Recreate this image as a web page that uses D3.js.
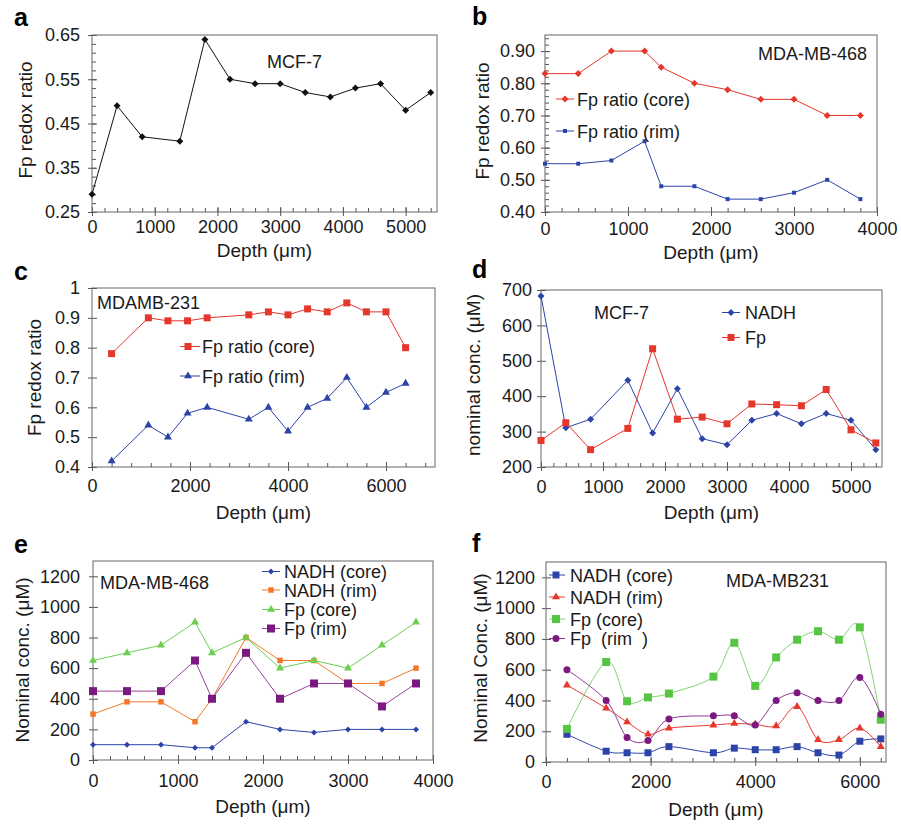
<!DOCTYPE html>
<html><head><meta charset="utf-8">
<script src="https://cdn.jsdelivr.net/npm/d3@7/dist/d3.min.js"></script>
<style>
body{margin:0;background:#fff}
svg text{font-family:"Liberation Sans",Arial,Helvetica,sans-serif;fill:#1a1a1a}
</style>
</head><body>
<svg id="chart" width="901" height="825"></svg>
<script>
// ---------------- DATA ----------------
// a: MCF-7 Fp redox ratio
const depthA = [0,400,800,1400,1800,2200,2600,3000,3400,3800,4200,4600,5000,5400];
const fpRatioA = [0.29,0.49,0.42,0.41,0.64,0.55,0.54,0.54,0.52,0.51,0.53,0.54,0.48,0.52];
const xTicksA = [0,1000,2000,3000,4000,5000];
const yTicksA = [0.25,0.35,0.45,0.55,0.65];

// b: MDA-MB-468 Fp redox ratio
const depthB = [0,400,800,1200,1400,1800,2200,2600,3000,3400,3800];
const fpCoreB = [0.83,0.83,0.90,0.90,0.85,0.80,0.78,0.75,0.75,0.70,0.70];
const fpRimB = [0.55,0.55,0.56,0.62,0.48,0.48,0.44,0.44,0.46,0.50,0.44];
const xTicksB = [0,1000,2000,3000,4000];
const yTicksB = [0.40,0.50,0.60,0.70,0.80,0.90];
const seriesNamesB = ["Fp ratio (core)","Fp ratio (rim)"];

// c: MDAMB-231 Fp redox ratio
const depthC = [400,1150,1550,1950,2350,3200,3600,4000,4400,4800,5200,5600,6000,6400];
const fpCoreC = [0.78,0.90,0.89,0.89,0.90,0.91,0.92,0.91,0.93,0.92,0.95,0.92,0.92,0.80];
const fpRimC = [0.42,0.54,0.50,0.58,0.60,0.56,0.60,0.52,0.60,0.63,0.70,0.60,0.65,0.68];
const xTicksC = [0,2000,4000,6000];
const yTicksC = [0.4,0.5,0.6,0.7,0.8,0.9,1];
const seriesNamesC = ["Fp ratio (core)","Fp ratio (rim)"];

// d: MCF-7 nominal concentrations
const depthD = [0,400,800,1400,1800,2200,2600,3000,3400,3800,4200,4600,5000,5400];
const nadhD = [683,311,335,445,296,421,280,263,332,351,322,351,332,249];
const fpD = [275,325,249,309,534,335,341,322,378,376,373,419,305,268];
const xTicksD = [0,1000,2000,3000,4000,5000];
const yTicksD = [200,300,400,500,600,700];
const seriesNamesD = ["NADH","Fp"];

// e: MDA-MB-468 nominal concentrations
const depthE = [0,400,800,1200,1400,1800,2200,2600,3000,3400,3800];
const nadhCoreE = [100,100,100,80,80,250,200,180,200,200,200];
const nadhRimE = [300,380,380,250,400,800,650,650,500,500,600];
const fpCoreE = [650,700,750,900,700,800,600,650,600,750,900];
const fpRimE = [450,450,450,650,400,700,400,500,500,350,500];
const xTicksE = [0,1000,2000,3000,4000];
const yTicksE = [0,200,400,600,800,1000,1200];
const seriesNamesE = ["NADH (core)","NADH (rim)","Fp (core)","Fp (rim)"];

// f: MDA-MB231 nominal concentrations
const depthF = [400,1150,1550,1950,2350,3200,3600,4000,4400,4800,5200,5600,6000,6400];
const nadhCoreF = [180,70,60,60,100,60,90,80,80,100,60,45,135,150];
const nadhRimF = [500,350,260,180,220,240,250,245,235,360,145,145,220,100];
const fpCoreF = [215,650,395,420,445,555,775,495,680,795,850,795,875,275];
const fpRimF = [600,400,160,140,280,300,300,240,400,450,400,400,550,310];
const xTicksF = [0,2000,4000,6000];
const yTicksF = [0,200,400,600,800,1000,1200];
const seriesNamesF = ["NADH (core)","NADH (rim)","Fp (core)","Fp  (rim  )"];

// ---------------- STYLE ----------------
const RED = "#e5372c", BLUE = "#2c44a8", ORANGE = "#f5782a", GREEN = "#6ccf50",
      PURPLE = "#7a1a80", GREENF = "#57c544", BLACK = "#111";
const FONT = "\"Liberation Sans\",Arial,Helvetica,sans-serif";

const svg = d3.select("#chart");

function markerPath(type, w) {
  if (type === "square") return d3.symbol().type(d3.symbolSquare).size(w*w)();
  if (type === "diamond") return d3.symbol().type(d3.symbolSquare).size(w*w/2)();
  if (type === "triangle") return d3.symbol().type(d3.symbolTriangle).size(Math.sqrt(3)/4*w*w)();
  return d3.symbol().type(d3.symbolCircle).size(Math.PI*(w/2)*(w/2))();
}
function placeMarker(sel, s, cx, cy) {
  sel.append("path")
    .attr("d", markerPath(s.marker, s.size))
    .attr("transform", `translate(${cx},${cy})` + (s.marker === "diamond" ? " rotate(45)" : ""))
    .attr("fill", s.color);
}

function styleAxis(g, fs) {
  g.attr("font-family", FONT).attr("font-size", fs);
  g.selectAll(".domain").remove();
  g.selectAll("line").attr("stroke", "#555").attr("stroke-width", 1);
  g.selectAll("text").attr("fill", "#1a1a1a");
}

function drawPanel(p) {
  const x = d3.scaleLinear().domain(p.xDom).range([p.l, p.r]);
  const y = d3.scaleLinear().domain(p.yDom).range([p.b, p.t]);
  const g = svg.append("g");

  // minor ticks (inward)
  if (p.xMinor) g.append("g").attr("transform", `translate(0,${p.b})`)
    .call(d3.axisBottom(x).tickValues(p.xMinor).tickSize(-4).tickSizeOuter(0).tickFormat(""))
    .call(s => styleAxis(s, 18));
  if (p.yMinor) g.append("g").attr("transform", `translate(${p.l},0)`)
    .call(d3.axisLeft(y).tickValues(p.yMinor).tickSize(-4).tickSizeOuter(0).tickFormat(""))
    .call(s => styleAxis(s, 18));
  // major inward part
  g.append("g").attr("transform", `translate(0,${p.b})`)
    .call(d3.axisBottom(x).tickValues(p.xTicks).tickSize(-5).tickSizeOuter(0).tickFormat(""))
    .call(s => styleAxis(s, 18));
  g.append("g").attr("transform", `translate(${p.l},0)`)
    .call(d3.axisLeft(y).tickValues(p.yTicks).tickSize(-5).tickSizeOuter(0).tickFormat(""))
    .call(s => styleAxis(s, 18));
  // major outward with labels
  g.append("g").attr("transform", `translate(0,${p.b})`)
    .call(d3.axisBottom(x).tickValues(p.xTicks).tickSize(4).tickSizeOuter(0).tickPadding(p.xPad).tickFormat(d3.format("d")))
    .call(s => styleAxis(s, 18));
  g.append("g").attr("transform", `translate(${p.l},0)`)
    .call(d3.axisLeft(y).tickValues(p.yTicks).tickSize(4).tickSizeOuter(0).tickPadding(p.yPad).tickFormat(p.yFmt))
    .call(s => styleAxis(s, 18));

  // frame
  g.append("rect").attr("x", p.l).attr("y", p.t).attr("width", p.r - p.l).attr("height", p.b - p.t)
    .attr("fill", "none").attr("stroke", "#666").attr("stroke-width", 1);

  // series
  const line = d3.line().x(d => x(d[0])).y(d => y(d[1])).curve(p.curve || d3.curveLinear);
  p.series.forEach(s => {
    const pts = d3.zip(s.x, s.y);
    g.append("path").attr("d", line(pts)).attr("fill", "none")
      .attr("stroke", s.lineColor || s.color).attr("stroke-width", 1);
  });
  p.series.forEach(s => {
    const pts = d3.zip(s.x, s.y);
    pts.forEach(d => placeMarker(g, s, x(d[0]), y(d[1])));
  });

  // legend
  if (p.legend) {
    const L = p.legend;
    p.series.forEach((s, i) => {
      const cy = L.ys[i];
      g.append("line").attr("x1", L.x1).attr("x2", L.x2).attr("y1", cy).attr("y2", cy)
        .attr("stroke", s.lineColor || s.color).attr("stroke-width", 1);
      placeMarker(g, s, L.mx, cy);
      g.append("text").attr("x", L.tx).attr("y", cy + 6.5).attr("font-size", 18)
        .attr("xml:space", "preserve").style("white-space", "pre").text(s.name);
    });
  }

  // annotation (cell line)
  g.append("text").attr("x", p.note.x).attr("y", p.note.y).attr("font-size", 18)
    .attr("text-anchor", p.note.anchor || "start").text(p.note.text);

  // axis titles
  g.append("text").attr("x", (p.l + p.r) / 2).attr("y", p.xTitleY).attr("text-anchor", "middle")
    .attr("font-size", 19).text("Depth (\u03bcm)");
  g.append("text").attr("transform", `translate(${p.yTitleX},${p.yTitleC}) rotate(-90)`)
    .attr("text-anchor", "middle").attr("font-size", 19).text(p.yTitle);

  // panel letter
  g.append("text").attr("x", p.letter.x).attr("y", p.letter.y).attr("font-size", 25)
    .attr("font-weight", "bold").style("fill", "#000").text(p.letter.t);
}

const f2 = d3.format(".2f");

drawPanel({
  l: 92, r: 437, t: 35, b: 212, xDom: [0, 5500], yDom: [0.25, 0.65],
  xTicks: xTicksA, yTicks: yTicksA, xMinor: d3.range(0, 5401, 200), yMinor: d3.range(0, 21).map(i => 0.25 + i * 0.02),
  xPad: 4, yPad: 8, yFmt: f2,
  series: [{ x: depthA, y: fpRatioA, color: BLACK, marker: "diamond", size: 7 }],
  note: { x: 267, y: 68, text: "MCF-7" },
  xTitleY: 257, yTitle: "Fp redox ratio", yTitleX: 32, yTitleC: 120,
  letter: { x: 14, y: 26, t: "a" }
});

drawPanel({
  l: 545, r: 877, t: 35, b: 212, xDom: [0, 4000], yDom: [0.40, 0.95],
  xTicks: xTicksB, yTicks: yTicksB, xMinor: d3.range(0, 4001, 200), yMinor: d3.range(0, 28).map(i => 0.40 + i * 0.02),
  xPad: 6, yPad: 6, yFmt: f2,
  series: [
    { x: depthB, y: fpCoreB, color: RED, marker: "diamond", size: 7, name: seriesNamesB[0] },
    { x: depthB, y: fpRimB, color: BLUE, marker: "square", size: 4, name: seriesNamesB[1] }
  ],
  legend: { x1: 556, x2: 574, mx: 565, tx: 577, ys: [99, 131] },
  note: { x: 867, y: 60, text: "MDA-MB-468", anchor: "end" },
  xTitleY: 259, yTitle: "Fp redox ratio", yTitleX: 488.5, yTitleC: 121,
  letter: { x: 472, y: 25, t: "b" }
});

drawPanel({
  l: 92, r: 435, t: 288, b: 467, xDom: [0, 7000], yDom: [0.4, 1.0],
  xTicks: xTicksC, yTicks: yTicksC, xMinor: d3.range(0, 7001, 400), yMinor: null,
  xPad: 8, yPad: 8, yFmt: d3.format(""),
  series: [
    { x: depthC, y: fpCoreC, color: RED, marker: "square", size: 7, name: seriesNamesC[0] },
    { x: depthC, y: fpRimC, color: BLUE, marker: "triangle", size: 8, name: seriesNamesC[1] }
  ],
  legend: { x1: 180, x2: 200, mx: 188, tx: 202, ys: [346.5, 376] },
  note: { x: 97, y: 309, text: "MDAMB-231" },
  xTitleY: 519, yTitle: "Fp redox ratio", yTitleX: 40.5, yTitleC: 377.5,
  letter: { x: 14, y: 280, t: "c" }
});

drawPanel({
  l: 541, r: 882, t: 290, b: 467, xDom: [0, 5500], yDom: [200, 700],
  xTicks: xTicksD, yTicks: yTicksD, xMinor: d3.range(0, 5401, 200), yMinor: null,
  xPad: 9, yPad: 5, yFmt: d3.format("d"),
  series: [
    { x: depthD, y: nadhD, color: BLUE, marker: "diamond", size: 7, name: seriesNamesD[0] },
    { x: depthD, y: fpD, color: RED, marker: "square", size: 7, name: seriesNamesD[1] }
  ],
  legend: { x1: 722, x2: 740, mx: 731, tx: 745, ys: [312.5, 337.5] },
  note: { x: 594, y: 319, text: "MCF-7" },
  xTitleY: 519, yTitle: "nominal conc. (\u03bcM)", yTitleX: 480, yTitleC: 375,
  letter: { x: 472, y: 278, t: "d" }
});

drawPanel({
  l: 93, r: 433, t: 561, b: 760, xDom: [0, 4000], yDom: [0, 1300],
  xTicks: xTicksE, yTicks: yTicksE, xMinor: d3.range(0, 4001, 200), yMinor: null,
  xPad: 10, yPad: 9, yFmt: d3.format("d"),
  series: [
    { x: depthE, y: nadhCoreE, color: BLUE, marker: "diamond", size: 6, name: seriesNamesE[0] },
    { x: depthE, y: nadhRimE, color: ORANGE, marker: "square", size: 5.5, name: seriesNamesE[1] },
    { x: depthE, y: fpCoreE, color: GREEN, marker: "triangle", size: 8, name: seriesNamesE[2] },
    { x: depthE, y: fpRimE, color: PURPLE, lineColor: "#9a45a0", marker: "square", size: 8, name: seriesNamesE[3] }
  ],
  legend: { x1: 262, x2: 280, mx: 271, tx: 284, ys: [571.5, 590, 609.5, 628.5] },
  note: { x: 100, y: 589, text: "MDA-MB-468" },
  xTitleY: 813, yTitle: "Nominal conc. (\u03bcM)", yTitleX: 29, yTitleC: 660,
  letter: { x: 14, y: 553, t: "e" }
});

drawPanel({
  l: 546, r: 886, t: 562, b: 762, xDom: [0, 6500], yDom: [0, 1300],
  xTicks: xTicksF, yTicks: yTicksF, xMinor: d3.range(0, 6401, 400), yMinor: null,
  xPad: 9, yPad: 7, yFmt: d3.format("d"), curve: d3.curveCatmullRom.alpha(0),
  series: [
    { x: depthF, y: nadhCoreF, color: BLUE, marker: "square", size: 7, name: seriesNamesF[0] },
    { x: depthF, y: nadhRimF, color: RED, marker: "triangle", size: 8, name: seriesNamesF[1] },
    { x: depthF, y: fpCoreF, color: GREENF, lineColor: "#7fd46e", marker: "square", size: 8, name: seriesNamesF[2] },
    { x: depthF, y: fpRimF, color: PURPLE, lineColor: "#8e3a96", marker: "circle", size: 7, name: seriesNamesF[3] }
  ],
  legend: { x1: 549, x2: 565, mx: 556, tx: 570, ys: [575, 597, 619, 638.5] },
  note: { x: 726, y: 587, text: "MDA-MB231" },
  xTitleY: 816, yTitle: "Nominal Conc. (\u03bcM)", yTitleX: 487, yTitleC: 658,
  letter: { x: 472, y: 552, t: "f" }
});
</script>
</body></html>
